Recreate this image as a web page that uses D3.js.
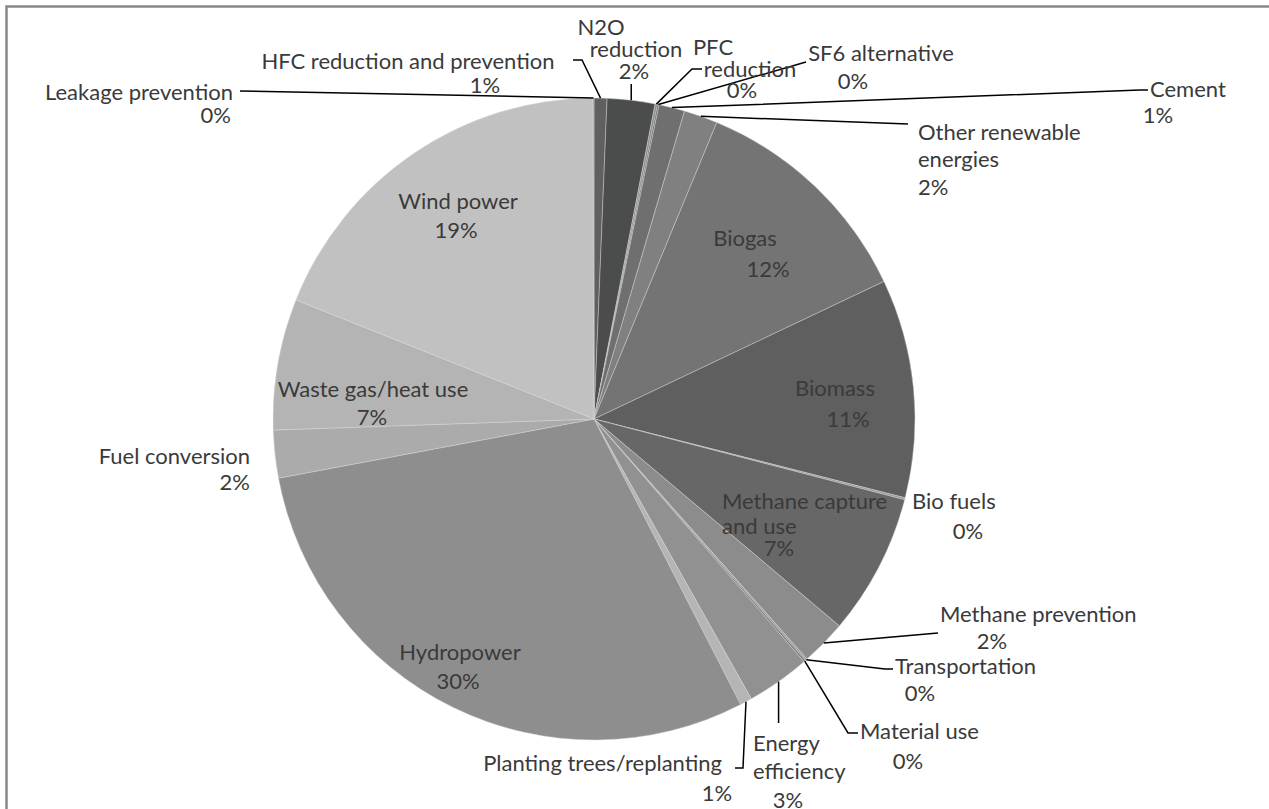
<!DOCTYPE html>
<html><head><meta charset="utf-8">
<script src="https://cdn.jsdelivr.net/npm/d3@7"></script>
<style>
body{margin:0;background:#fff}
svg{display:block}
text{font-family:Lato,"Open Sans",sans-serif;font-size:22px;fill:#3a3a3a}
</style>
</head><body>
<svg id="c" width="1269" height="809"></svg>
<script>
// ---- data ----
const categories = [
  "HFC reduction and prevention","N2O reduction","PFC reduction","SF6 alternative","Cement",
  "Other renewable energies","Biogas","Biomass","Bio fuels","Methane capture and use",
  "Methane prevention","Transportation","Material use","Energy efficiency","Planting trees/replanting",
  "Hydropower","Fuel conversion","Waste gas/heat use","Wind power","Leakage prevention"
];
const values = [
  0.65, 2.4, 0.12, 0.08, 1.3,
  1.7, 11.7, 11.0, 0.1, 7.1,
  2.3, 0.1, 0.1, 3.2, 0.6,
  29.6, 2.4, 6.6, 18.9, 0.05
];
// ---- styles ----
const sliceColors = [
  "#5f605f","#4b4d4c","#8e8e8e","#6a6a6a","#6f6f6f",
  "#808080","#747474","#5e5f5e","#9a9a9a","#676767",
  "#8c8c8c","#a0a0a0","#7a7a7a","#919191","#b5b5b5",
  "#8e8e8e","#ababab","#b4b4b4","#c1c1c1","#9a9a9a"
];
// label layout: lines [text ("%" = percentage), x, y, anchor]; leader points after slice point
const labelLayout = [
  {lines:[["HFC reduction and prevention",408,60,"middle"],["%",485,84,"middle"]], leader:[[582,60],[573,60]]},
  {lines:[["N2O",601,26,"middle"],["reduction",636,48,"middle"],["%",634,70,"middle"]], leader:"tick84"},
  {lines:[["PFC",713,46,"middle"],["reduction",750,68,"middle"],["%",742,89,"middle"]], leader:[[692,69],[702,69]]},
  {lines:[["SF6 alternative",881,52,"middle"],["%",853,80,"middle"]], leader:[[806,62]]},
  {lines:[["Cement",1150,88,"start"],["%",1158,114,"middle"]], leader:[[1140,90],[1148,90]]},
  {lines:[["Other renewable",918,131,"start"],["energies",918,158,"start"],["%",918,186,"start"]], leader:[[908,124]]},
  {lines:[["Biogas",745,237,"middle"],["%",768,268,"middle"]]},
  {lines:[["Biomass",835,387,"middle"],["%",848,418,"middle"]]},
  {lines:[["Bio fuels",912,500,"start"],["%",968,530,"middle"]]},
  {lines:[["Methane capture",722,500,"start"],["and use",722,525,"start"],["%",779,547,"middle"]]},
  {lines:[["Methane prevention",940,613,"start"],["%",992,640,"middle"]], leader:[[938,633]]},
  {lines:[["Transportation",895,665,"start"],["%",920,692,"middle"]], leader:[[885,669],[893,669]]},
  {lines:[["Material use",860,730,"start"],["%",908,760,"middle"]], leader:[[848,733],[858,733]]},
  {lines:[["Energy",753,742,"start"],["efficiency",753,770,"start"],["%",788,799,"middle"]], leader:"tick723"},
  {lines:[["Planting trees/replanting",722,762,"end"],["%",717,792,"middle"]], leader:[[743,768],[735,768]]},
  {lines:[["Hydropower",460,651,"middle"],["%",458,680,"middle"]]},
  {lines:[["Fuel conversion",250,455,"end"],["%",250,481,"end"]]},
  {lines:[["Waste gas/heat use",373,388,"middle"],["%",372,416,"middle"]]},
  {lines:[["Wind power",458,200,"middle"],["%",456,229,"middle"]]},
  {lines:[["Leakage prevention",233,91,"end"],["%",231,114,"end"]], leader:[[240,91]]}
];

const svg = d3.select("#c");
const cx = 594, cy = 419, R = 321;

svg.append("rect").attr("x",6.5).attr("y",6.5).attr("width",1400).attr("height",1000)
  .attr("fill","#fff").attr("stroke","#888").attr("stroke-width",2.5);

const data = categories.map((c,i)=>({name:c, value:values[i], i}));
const total = d3.sum(values);
const pie = d3.pie().value(d=>d.value).sort(null).startAngle(0).endAngle(2*Math.PI);
const arcs = pie(data);
const arc = d3.arc().innerRadius(0).outerRadius(R);

const g = svg.append("g").attr("transform",`translate(${cx},${cy})`);
g.selectAll("path").data(arcs).join("path")
  .attr("d",arc)
  .attr("fill",d=>sliceColors[d.index])
  .attr("stroke","#d8d8d8").attr("stroke-width",0.6).attr("stroke-opacity",0.7);

const pct = v => Math.round(v/total*100) + "%";

// leaders
arcs.forEach((a,i)=>{
  const L = labelLayout[i].leader;
  if(!L) return;
  const mid = (a.startAngle+a.endAngle)/2;
  const p0 = [cx + R*Math.sin(mid), cy - R*Math.cos(mid)];
  let pts;
  if (typeof L === "string") {
    const y = +L.replace("tick","");
    pts = [p0,[p0[0],y]];
  } else pts = [p0, ...L];
  svg.append("path").attr("d", d3.line()(pts))
    .attr("fill","none").attr("stroke","#000").attr("stroke-width",1.5);
});

// labels
arcs.forEach((a,i)=>{
  labelLayout[i].lines.forEach(([t,x,y,anc])=>{
    svg.append("text").attr("x",x).attr("y",y)
      .attr("text-anchor",anc).attr("dominant-baseline","central")
      .text(t==="%" ? pct(a.data.value) : t);
  });
});
</script>
</body></html>
